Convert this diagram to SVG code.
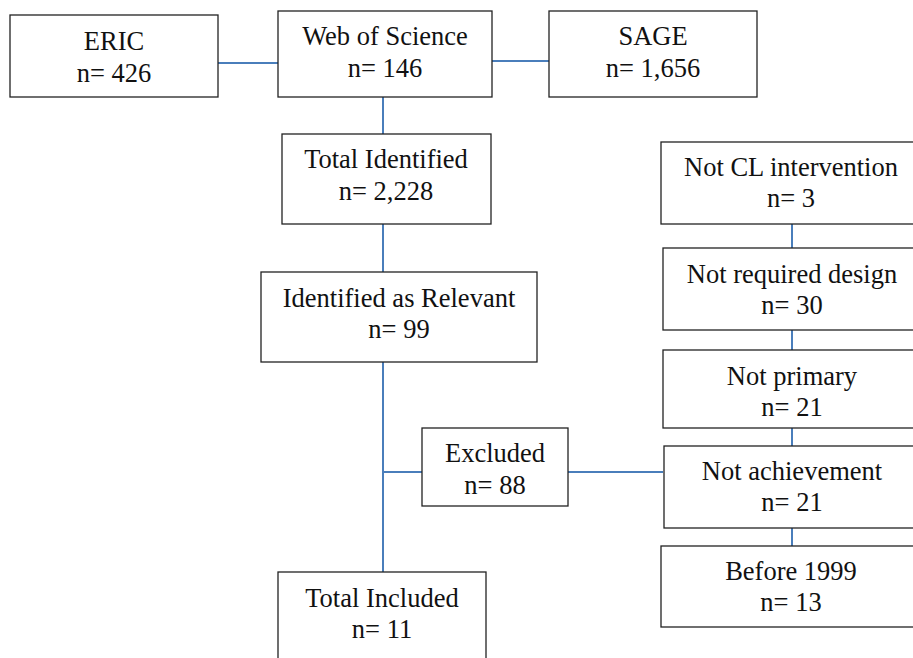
<svg xmlns="http://www.w3.org/2000/svg" width="913" height="658" viewBox="0 0 913 658">
<style>
.box{fill:#fff;stroke:#222;stroke-width:1.3}
.t{font-family:"Liberation Serif","Times New Roman",serif;font-size:26.5px;fill:#111;text-anchor:middle}
.c{stroke:#4a7ebb;stroke-width:2;fill:none}
</style>
<rect width="913" height="658" fill="#fff"/>
<g id="connectors">
<line class="c" x1="218" y1="63" x2="278" y2="63"/>
<line class="c" x1="492" y1="61" x2="549" y2="61"/>
<line class="c" x1="383" y1="97" x2="383" y2="134"/>
<line class="c" x1="383" y1="224" x2="383" y2="272"/>
<line class="c" x1="383" y1="362" x2="383" y2="572"/>
<line class="c" x1="383" y1="472" x2="422" y2="472"/>
<line class="c" x1="568" y1="472" x2="663" y2="472"/>
<line class="c" x1="792" y1="224" x2="792" y2="248"/>
<line class="c" x1="792" y1="330" x2="792" y2="350"/>
<line class="c" x1="792" y1="428" x2="792" y2="446"/>
<line class="c" x1="792" y1="528" x2="792" y2="546"/>
</g>
<g id="eric"><rect class="box" x="10" y="15" width="208" height="82"/><text class="t" x="114" y="50">ERIC</text><text class="t" x="114" y="82">n= 426</text></g>
<g id="wos"><rect class="box" x="278" y="11" width="214" height="86"/><text class="t" x="385" y="45">Web of Science</text><text class="t" x="385" y="77">n= 146</text></g>
<g id="sage"><rect class="box" x="549" y="11" width="208" height="86"/><text class="t" x="653" y="45">SAGE</text><text class="t" x="653" y="77">n= 1,656</text></g>
<g id="total-identified"><rect class="box" x="282" y="134" width="209" height="90"/><text class="t" x="386" y="168">Total Identified</text><text class="t" x="386" y="200">n= 2,228</text></g>
<g id="relevant"><rect class="box" x="261" y="272" width="276" height="90"/><text class="t" x="399" y="307">Identified as Relevant</text><text class="t" x="399" y="338">n= 99</text></g>
<g id="excluded"><rect class="box" x="422" y="428" width="146" height="78"/><text class="t" x="495" y="462">Excluded</text><text class="t" x="495" y="494">n= 88</text></g>
<g id="total-included"><rect class="box" x="278" y="572" width="208" height="100"/><text class="t" x="382" y="607">Total Included</text><text class="t" x="382" y="638">n= 11</text></g>
<g id="not-cl"><rect class="box" x="661" y="142" width="260" height="82"/><text class="t" x="791" y="176">Not CL intervention</text><text class="t" x="791" y="207">n= 3</text></g>
<g id="not-design"><rect class="box" x="663" y="248" width="260" height="82"/><text class="t" x="792" y="283">Not required design</text><text class="t" x="792" y="314">n= 30</text></g>
<g id="not-primary"><rect class="box" x="663" y="350" width="260" height="78"/><text class="t" x="792" y="385">Not primary</text><text class="t" x="792" y="416">n= 21</text></g>
<g id="not-achievement"><rect class="box" x="664" y="446" width="260" height="82"/><text class="t" x="792" y="480">Not achievement</text><text class="t" x="792" y="511">n= 21</text></g>
<g id="before-1999"><rect class="box" x="661" y="546" width="260" height="81"/><text class="t" x="791" y="580">Before 1999</text><text class="t" x="791" y="611">n= 13</text></g>
</svg>
